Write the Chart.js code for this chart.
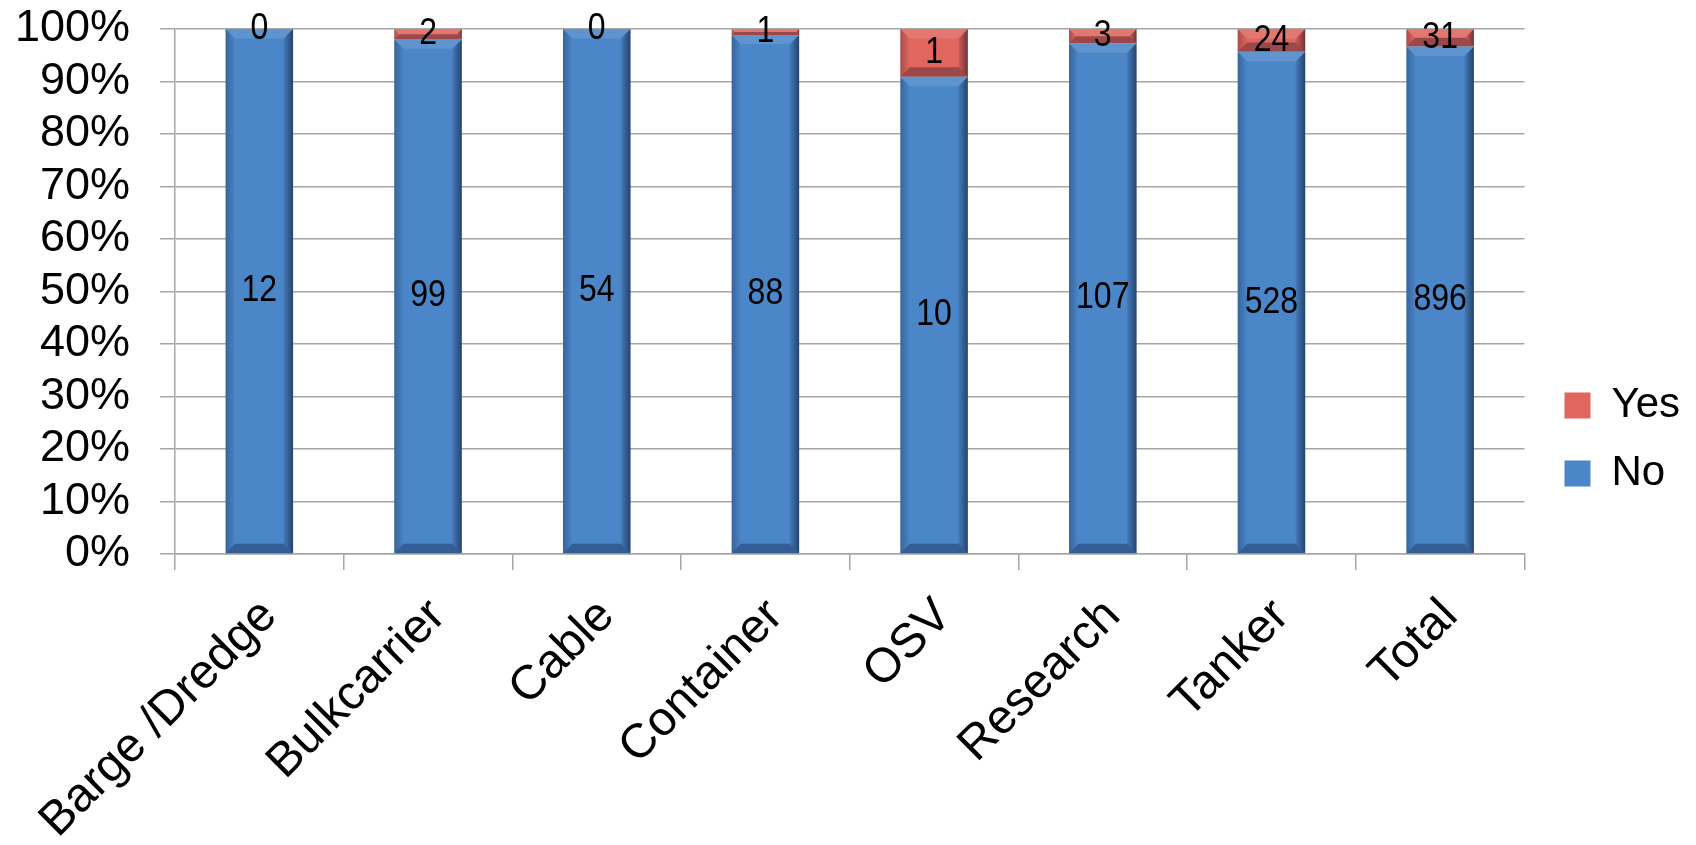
<!DOCTYPE html>
<html>
<head>
<meta charset="utf-8">
<script src="https://cdn.jsdelivr.net/npm/chart.js@4.4.0/dist/chart.umd.min.js"></script>
<style>
  html, body { margin: 0; padding: 0; background: #fff; }
  #wrap { width: 1696px; height: 845px; position: relative; }
</style>
</head>
<body>
<div id="wrap"><canvas id="chart"></canvas></div>
<script>
const categories = ["Barge /Dredge", "Bulkcarrier", "Cable", "Container", "OSV", "Research", "Tanker", "Total"];
const noCounts = [12, 99, 54, 88, 10, 107, 528, 896];
const yesCounts = [0, 2, 0, 1, 1, 3, 24, 31];
const seriesNames = ["No", "Yes"];

// share of each bar, in percent
const noPct = noCounts.map((n, i) => n / (n + yesCounts[i]) * 100);
const yesPct = yesCounts.map((n, i) => n / (noCounts[i] + n) * 100);
const counts = [noCounts, yesCounts];

const FONT = "'Liberation Sans', Arial, sans-serif";

// labels in the middle of every segment (text a bit tall, like the original)
const segLabels = {
  id: "segLabels",
  afterDatasetsDraw(chart) {
    const ctx = chart.ctx;
    const sy = 1.15;
    ctx.save();
    ctx.font = "32px " + FONT;
    ctx.fillStyle = "#000";
    ctx.textAlign = "center";
    ctx.textBaseline = "middle";
    chart.data.datasets.forEach((ds, di) => {
      chart.getDatasetMeta(di).data.forEach((el, i) => {
        const y = (el.y + el.base) / 2;
        ctx.save();
        ctx.translate(el.x, y);
        ctx.scale(1, sy);
        ctx.fillText(String(counts[di][i]), 0, 0);
        ctx.restore();
      });
    });
    ctx.restore();
  }
};

// rough bevel shading like the office chart
const bevel = {
  id: "bevel",
  afterDatasetsDraw(chart) {
    const ctx = chart.ctx;
    ctx.save();
    chart.data.datasets.forEach((ds, di) => {
      chart.getDatasetMeta(di).data.forEach((el) => {
        const x0 = el.x - el.width / 2, x1 = el.x + el.width / 2;
        const top = Math.min(el.y, el.base), bot = Math.max(el.y, el.base);
        const h = bot - top;
        if (h < 1) return;
        const e = Math.min(el.width * 0.14, h / 2);
        let g = ctx.createLinearGradient(x1 - e, 0, x1, 0);
        g.addColorStop(0, "rgba(0,0,20,0.08)");
        g.addColorStop(1, "rgba(0,0,20,0.5)");
        ctx.fillStyle = g;
        ctx.beginPath();
        ctx.moveTo(x1, top); ctx.lineTo(x1 - e, top + e); ctx.lineTo(x1 - e, bot - e); ctx.lineTo(x1, bot);
        ctx.fill();
        g = ctx.createLinearGradient(x0, 0, x0 + e, 0);
        g.addColorStop(0, "rgba(0,0,20,0.25)");
        g.addColorStop(1, "rgba(0,0,20,0.0)");
        ctx.fillStyle = g;
        ctx.beginPath();
        ctx.moveTo(x0, top); ctx.lineTo(x0 + e, top + e); ctx.lineTo(x0 + e, bot - e); ctx.lineTo(x0, bot);
        ctx.fill();
        ctx.fillStyle = "rgba(0,0,30,0.3)";
        ctx.beginPath();
        ctx.moveTo(x0, bot); ctx.lineTo(x0 + e, bot - e); ctx.lineTo(x1 - e, bot - e); ctx.lineTo(x1, bot);
        ctx.fill();
        ctx.fillStyle = "rgba(255,255,255,0.12)";
        ctx.beginPath();
        ctx.moveTo(x0, top); ctx.lineTo(x0 + e, top + e); ctx.lineTo(x1 - e, top + e); ctx.lineTo(x1, top);
        ctx.fill();
      });
    });
    ctx.restore();
  }
};

// nudge the legend to where the original sits
const legendShift = {
  id: "legendShift",
  afterLayout(chart) {
    const lg = chart.legend;
    lg.left += 14; lg.right += 14;
    lg.top += 17; lg.bottom += 17;
  }
};

const canvas = document.getElementById("chart");
new Chart(canvas.getContext("2d"), {
  type: "bar",
  data: {
    labels: categories,
    datasets: [
      { label: seriesNames[0], data: noPct, backgroundColor: "#4A86C8", borderWidth: 0 },
      { label: seriesNames[1], data: yesPct, backgroundColor: "#E0665E", borderWidth: 0 }
    ]
  },
  options: {
    responsive: true,
    maintainAspectRatio: false,
    animation: false,
    layout: { padding: { left: 13, top: 0, right: 20, bottom: 0 } },
    datasets: { bar: { barPercentage: 0.4, categoryPercentage: 1.0 } },
    plugins: {
      tooltip: { enabled: false },
      legend: {
        position: "right",
        reverse: true,
        labels: {
          color: "#000",
          font: { family: FONT, size: 42 },
          boxWidth: 26,
          boxHeight: 26,
          padding: 26
        }
      }
    },
    scales: {
      x: {
        stacked: true,
        grid: { drawOnChartArea: false, offset: true, tickLength: 16, color: "#A6A6A6", lineWidth: 1.5 },
        border: { color: "#A6A6A6", width: 1.5 },
        ticks: {
          color: "#000",
          font: { family: FONT, size: 48 },
          minRotation: 45,
          maxRotation: 45,
          autoSkip: false,
          padding: 18,
          labelOffset: 10
        },
        afterFit(scale) { scale.paddingLeft = 0; scale.height = 291; }
      },
      y: {
        stacked: true,
        min: 0,
        max: 100,
        grid: { color: "#A6A6A6", lineWidth: 1.5, tickLength: 15 },
        border: { color: "#A6A6A6", width: 1.5 },
        ticks: {
          stepSize: 10,
          autoSkip: false,
          color: "#000",
          font: { family: FONT, size: 45 },
          padding: 30,
          callback: (v) => v + "%"
        },
        afterFit(scale) { scale.width = 162; scale.paddingTop = 29; scale.paddingBottom = 0; }
      }
    }
  },
  plugins: [bevel, segLabels, legendShift]
});
</script>
</body>
</html>
